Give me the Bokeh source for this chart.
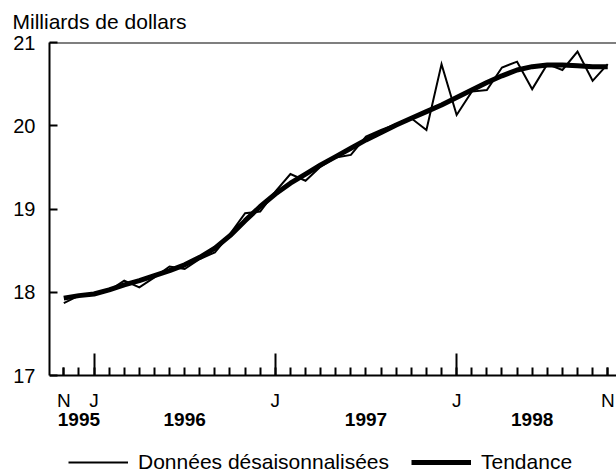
from bokeh.plotting import figure
from bokeh.models import LinearAxis, FixedTicker, Legend, LegendItem, Range1d
from bokeh.embed import file_html
from bokeh.resources import INLINE

# month index: 0 = Nov 1995 ... 36 = Nov 1998
months = list(range(37))
n_idx = [0, 36]
n_labels = ["N", "N"]
jan_idx = [2, 14, 26]
jan_labels = ["J", "J", "J"]
year_bounds = [0, 2, 14, 26, 36]
year_labels = ["1995", "1996", "1997", "1998"]
y_ticks = [17, 18, 19, 20, 21]

desaisonnalisees = [17.87, 17.96, 17.97, 18.02, 18.14, 18.06, 18.18, 18.31, 18.28, 18.40,
                    18.48, 18.70, 18.95, 18.97, 19.21, 19.42, 19.34, 19.51, 19.62, 19.65,
                    19.87, 19.95, 20.02, 20.09, 19.95, 20.74, 20.13, 20.41, 20.43, 20.70,
                    20.77, 20.44, 20.74, 20.67, 20.89, 20.54, 20.74]
tendance = [17.93, 17.96, 17.98, 18.03, 18.09, 18.14, 18.20, 18.26, 18.33, 18.42,
            18.53, 18.68, 18.86, 19.03, 19.18, 19.31, 19.42, 19.53, 19.63, 19.73,
            19.83, 19.92, 20.01, 20.09, 20.17, 20.25, 20.34, 20.43, 20.52, 20.60,
            20.67, 20.71, 20.73, 20.73, 20.72, 20.71, 20.71]

FONT = "Liberation Sans"
X0, X1 = -0.946, 36.58
Y_AXIS_MIN, Y_AXIS_MAX = 17, 21
Y_VIEW_MIN = 15.872  # extra room under the axis for labels and legend

p = figure(width=616, height=469, output_backend="svg", toolbar_location=None,
           x_range=Range1d(X0, X1), y_range=Range1d(Y_VIEW_MIN, Y_AXIS_MAX),
           min_border_left=49, min_border_right=0, min_border_top=42, min_border_bottom=0,
           x_axis_location=None, y_axis_location=None)
p.outline_line_color = None
p.grid.grid_line_color = None
p.background_fill_color = "white"

p.title.text = "Milliards de dollars"
p.title.text_font = FONT
p.title.text_font_size = "21px"
p.title.text_font_style = "normal"
p.title.text_color = "black"
p.title.align = "left"
p.title.vertical_align = "top"
p.title.offset = -37
p.title.standoff = 15

# left axis
yax = LinearAxis(ticker=FixedTicker(ticks=y_ticks), bounds=(Y_AXIS_MIN, Y_AXIS_MAX),
                 axis_line_width=2, axis_line_color="black",
                 major_tick_in=8, major_tick_out=0, major_tick_line_width=2,
                 major_tick_line_color="black", minor_tick_line_color=None,
                 major_label_standoff=14, major_label_text_font=FONT,
                 major_label_text_font_size="20px", major_label_text_color="black")
p.add_layout(yax, "left")

# top border line
tax = LinearAxis(ticker=FixedTicker(ticks=[]), axis_line_width=2, axis_line_color="black",
                 fixed_location=Y_AXIS_MAX, major_tick_line_color=None,
                 minor_tick_line_color=None)
p.add_layout(tax, "above")

# bottom axis: long January ticks with "J"
xax = LinearAxis(ticker=FixedTicker(ticks=jan_idx), fixed_location=Y_AXIS_MIN,
                 axis_line_width=2, axis_line_color="black",
                 major_tick_in=22, major_tick_out=0, major_tick_line_width=2,
                 major_tick_line_color="black", minor_tick_line_color=None,
                 major_label_overrides={k: v for k, v in zip(jan_idx, jan_labels)},
                 major_label_standoff=14, major_label_text_font=FONT,
                 major_label_text_font_size="19px", major_label_text_color="black")
p.add_layout(xax, "below")

# short monthly ticks with "N" at both ends
nax = LinearAxis(ticker=FixedTicker(ticks=n_idx, minor_ticks=months), fixed_location=Y_AXIS_MIN,
                 axis_line_color=None,
                 major_tick_in=8, major_tick_out=0, major_tick_line_width=2,
                 major_tick_line_color="black",
                 minor_tick_in=8, minor_tick_out=0, minor_tick_line_width=2,
                 minor_tick_line_color="black",
                 major_label_overrides={k: v for k, v in zip(n_idx, n_labels)},
                 major_label_standoff=14, major_label_text_font=FONT,
                 major_label_text_font_size="19px", major_label_text_color="black")
p.add_layout(nax, "below")

year_pos = [(a + b) / 2 for a, b in zip(year_bounds[:-1], year_bounds[1:])]
yx = LinearAxis(ticker=FixedTicker(ticks=year_pos), fixed_location=Y_AXIS_MIN,
                major_label_overrides={k: v for k, v in zip(year_pos, year_labels)},
                axis_line_color=None, major_tick_line_color=None, minor_tick_line_color=None,
                major_tick_out=0, major_tick_in=0,
                major_label_standoff=37, major_label_text_font=FONT,
                major_label_text_font_size="19px", major_label_text_font_style="bold",
                major_label_text_color="black")
p.add_layout(yx, "below")

r_trend = p.line(months, tendance, line_width=5, line_color="black", line_join="round")
r_data = p.line(months, desaisonnalisees, line_width=2, line_color="black", line_join="miter")

legend = Legend(items=[LegendItem(label="Données désaisonnalisées", renderers=[r_data]),
                       LegendItem(label="Tendance", renderers=[r_trend])],
                orientation="horizontal", location=(19, -5),
                glyph_width=60, glyph_height=20, label_height=20, label_standoff=10, spacing=22,
                padding=0, margin=0, border_line_color=None, background_fill_alpha=0,
                label_text_font=FONT, label_text_font_size="21px", label_text_color="black")
p.add_layout(legend, "center")

open("out.html", "w").write(file_html(p, INLINE))
